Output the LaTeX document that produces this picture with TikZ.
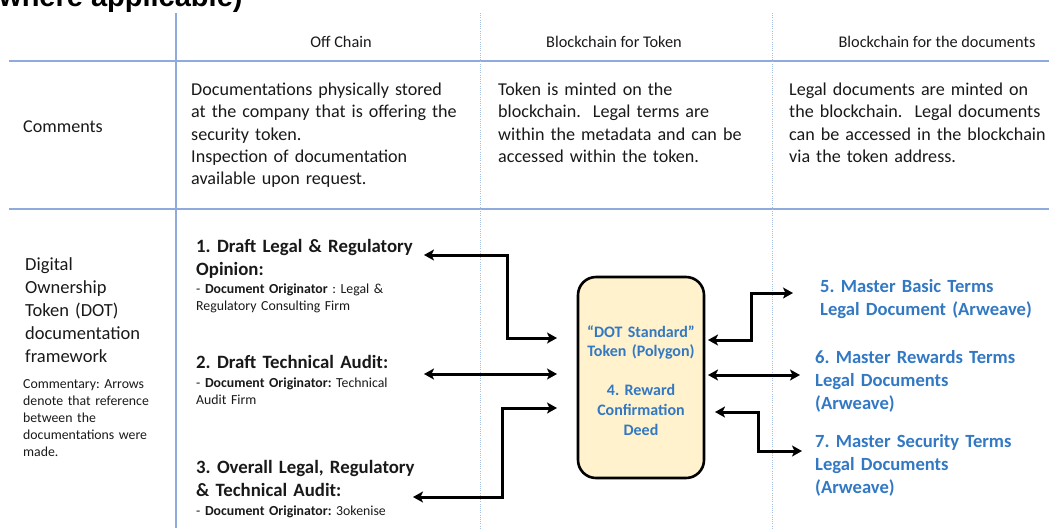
\documentclass[tikz,border=0pt]{standalone}
\usepackage{fontspec}
\setmainfont{Carlito}
\newfontfamily\titlefont{Liberation Sans}
\usetikzlibrary{arrows.meta}
\definecolor{gridblue}{RGB}{143,170,220}
\definecolor{dotblue}{RGB}{165,190,228}
\definecolor{docblue}{RGB}{50,120,195}
\definecolor{boxfill}{RGB}{255,242,204}
\definecolor{ink}{RGB}{25,25,25}
\begin{document}
\frenchspacing
\begin{tikzpicture}[x=1pt,y=-1pt,
  txt/.style={inner sep=0pt, anchor=base west, text width=#1, align=left, text=ink},
  txt/.default=300pt,
  hdr/.style={inner sep=0pt, anchor=base, text=ink, font=\fontsize{16.3}{20}\selectfont},
  body/.style={font=\fontsize{18.1}{22.3}\selectfont},
  big/.style={font=\fontsize{18.5}{23}\selectfont},
  small/.style={font=\fontsize{13.8}{17}\selectfont},
  bhead/.style={font=\bfseries\fontsize{18.8}{23}\selectfont},
  bluetxt/.style={text=docblue, font=\bfseries\fontsize{18.6}{23}\selectfont},
  gridline/.style={draw=gridblue, line width=1.4pt},
  dotline/.style={draw=dotblue, line width=1pt, dash pattern=on 1pt off 1.2pt},
  conn/.style={line width=3pt, {Stealth[length=10pt,width=11pt,inset=2.5pt]}-{Stealth[length=10pt,width=11pt,inset=2.5pt]}},
  tokenbox/.style={draw=black, line width=2.6pt, fill=boxfill, rounded corners=18pt,
    minimum width=126pt, minimum height=201pt, inner sep=0pt}
]
\useasboundingbox (0,0) rectangle (1049,528);

% title (cut off at top, as in the reference)
\node[inner sep=0pt, anchor=base west, font=\titlefont\bfseries\fontsize{29}{31}\selectfont] (title) at (-1,6.5) {where applicable)};

% grid
\draw[gridline] (9,61) -- (1049,61);
\draw[gridline] (9,209) -- (1049,209);
\draw[gridline] (176,13) -- (176,528);
\draw[dotline] (480,13) -- (480,528);
\draw[dotline] (772,13) -- (772,528);

% headers
\node[hdr] (h1) at (341,47) {Off Chain};
\node[hdr] (h2) at (614,47) {Blockchain for Token};
\node[hdr] (h3) at (937,47) {Blockchain for the documents};

% comments row
\node[txt, body] (comments) at (23,132) {Comments};
\node[txt, body] (c1) at (191,95.5) {Documentations physically stored\\at the company that is offering the\\security token.\\Inspection of documentation\\available upon request.};
\node[txt, body] (c2) at (498,95.5) {Token is minted on the\\blockchain.\ \ Legal terms are\\within the metadata and can be\\accessed within the token.};
\node[txt, body] (c3) at (789,95.5) {Legal documents are minted on\\the blockchain.\ \ Legal documents\\can be accessed in the blockchain\\via the token address.};

% framework row label
\node[txt, big] (dot) at (25,270) {Digital\\Ownership\\Token (DOT)\\documentation\\framework};
\node[txt, small] (comm) at (23,388) {Commentary: Arrows\\denote that reference\\between the\\documentations were\\made.};

% off-chain documents
\node[txt, bhead] (d1) at (196,252) {1. Draft Legal \& Regulatory\\Opinion:};
\node[txt, small] (d1o) at (196,293) {- \textbf{Document Originator} : Legal \&\\Regulatory Consulting Firm};
\node[txt, bhead] (d2) at (196,368) {2. Draft Technical Audit:};
\node[txt, small] (d2o) at (196,387) {- \textbf{Document Originator:} Technical\\Audit Firm};
\node[txt, bhead] (d3) at (196,473) {3. Overall Legal, Regulatory\\\& Technical Audit:};
\node[txt, small] (d3o) at (196,515) {- \textbf{Document Originator:} 3okenise};

% token box
\node[tokenbox] (box) at (641,377.5) {};
\node[inner sep=0pt, anchor=base, text width=130pt, align=center, text=docblue,
  font=\bfseries\fontsize{16}{19.6}\selectfont] (boxtext) at (641,337)
  {“DOT Standard”\\Token (Polygon)\\[19.6pt]4. Reward\\Confirmation\\Deed};

% on-chain documents
\node[txt, bluetxt] (d5) at (820,292) {5. Master Basic Terms\\Legal Document (Arweave)};
\node[txt, bluetxt] (d6) at (815,363) {6. Master Rewards Terms\\Legal Documents\\(Arweave)};
\node[txt, bluetxt] (d7) at (815,447) {7. Master Security Terms\\Legal Documents\\(Arweave)};

% connector end points
\coordinate (a1L) at (424,255);  \coordinate (a1R) at (557,338);
\coordinate (a2L) at (424,374);  \coordinate (a2R) at (557,374);
\coordinate (a3L) at (413,497);  \coordinate (a3R) at (557,408);
\coordinate (a5L) at (708,340);  \coordinate (a5R) at (793,293);
\coordinate (a6L) at (708,375);  \coordinate (a6R) at (800,375);
\coordinate (a7L) at (715,412);  \coordinate (a7R) at (802,451);

% connectors
\draw[conn] (a1L) -- (507,255) -- (507,338) -- (a1R);
\draw[conn] (a2L) -- (a2R);
\draw[conn] (a3L) -- (502,497) -- (502,408) -- (a3R);
\draw[conn] (a5L) -- (751,340) -- (751,293) -- (a5R);
\draw[conn] (a6L) -- (a6R);
\draw[conn] (a7L) -- (758,412) -- (758,451) -- (a7R);
\end{tikzpicture}
\end{document}
